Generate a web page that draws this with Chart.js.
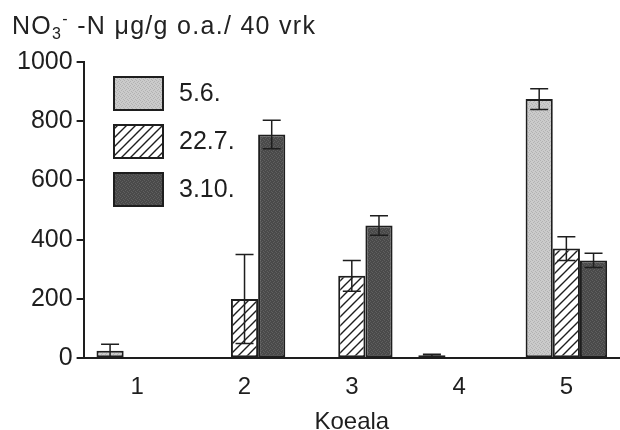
<!DOCTYPE html>
<html>
<head>
<meta charset="utf-8">
<script src="https://cdn.jsdelivr.net/npm/chart.js@4.4.1/dist/chart.umd.min.js"></script>
<style>
  html, body { margin: 0; padding: 0; background: #fff; }
  #wrap { position: relative; width: 620px; height: 430px; overflow: hidden; }
  #title {
    position: absolute; left: 12px; top: 10px;
    font: 25px "Liberation Sans", Arial, sans-serif; color: #222;
    white-space: nowrap; line-height: 30px; letter-spacing: 1.3px;
  }
  #title sub, #title sup { font-size: 16px; line-height: 0; }
  #title sub { vertical-align: -5px; }
  #title sup { vertical-align: 10px; }
</style>
</head>
<body>
<div id="wrap">
  <canvas id="chart" width="620" height="430"></canvas>
  <div id="title">NO<sub>3</sub><sup>-</sup> -N μg/g o.a./ 40 vrk</div>
</div>
<script>
// ---- Data ----
const categories = ['1', '2', '3', '4', '5'];
const seriesLabels = ['5.6.', '22.7.', '3.10.'];
const june5 = [25, 2, 0, 10, 875];
const june5Err = [22, 0, 0, 3, 35];
const july22 = [0, 200, 278, 2, 370];
const july22Err = [0, 150, 52, 0, 40];
const oct3 = [0, 755, 448, 0, 330];
const oct3Err = [0, 48, 33, 0, 24];
const yTicks = [0, 200, 400, 600, 800, 1000];

(function() {
  'use strict';

  const FONT = '"Liberation Sans", Arial, sans-serif';
  const INK = '#1e1e1e';

  // ---- Fill textures ----
  function stipple(base, dot) {
    const c = document.createElement('canvas');
    c.width = 4; c.height = 4;
    const g = c.getContext('2d');
    g.fillStyle = base;
    g.fillRect(0, 0, 4, 4);
    g.fillStyle = dot;
    [[0, 0], [2, 1], [1, 2], [3, 3]].forEach(p => g.fillRect(p[0], p[1], 1, 1));
    return g.createPattern(c, 'repeat');
  }

  function hatch() {
    const s = 9;
    const c = document.createElement('canvas');
    c.width = s; c.height = s;
    const g = c.getContext('2d');
    g.fillStyle = '#fff';
    g.fillRect(0, 0, s, s);
    g.strokeStyle = INK;
    g.lineWidth = 1.4;
    g.beginPath();
    g.moveTo(-1, s + 1); g.lineTo(s + 1, -1);
    g.moveTo(-1, 1); g.lineTo(1, -1);
    g.moveTo(s - 1, s + 1); g.lineTo(s + 1, s - 1);
    g.stroke();
    return g.createPattern(c, 'repeat');
  }

  const fills = [stipple('#cbcbcb', '#b2b2b2'), hatch(), stipple('#4a4a4a', '#5f5f5f')];
  const errs = [june5Err, july22Err, oct3Err];

  // ---- Error bars ----
  const errorBars = {
    id: 'errorBars',
    afterDatasetsDraw(chart) {
      const ctx = chart.ctx;
      const y = chart.scales.y;
      ctx.save();
      ctx.strokeStyle = INK;
      ctx.lineWidth = 1.5;
      chart.data.datasets.forEach((ds, i) => {
        chart.getDatasetMeta(i).data.forEach((bar, j) => {
          const e = errs[i][j];
          if (!e) return;
          const v = ds.data[j];
          const top = y.getPixelForValue(v + e);
          const bot = y.getPixelForValue(Math.max(0, v - e));
          const hw = 9;
          ctx.beginPath();
          ctx.moveTo(bar.x, top); ctx.lineTo(bar.x, bot);
          ctx.moveTo(bar.x - hw, top); ctx.lineTo(bar.x + hw, top);
          ctx.moveTo(bar.x - hw, bot); ctx.lineTo(bar.x + hw, bot);
          ctx.stroke();
        });
      });
      ctx.restore();
    }
  };

  // ---- Legend inside the plot ----
  const boxLegend = {
    id: 'boxLegend',
    afterDraw(chart) {
      const ctx = chart.ctx;
      ctx.save();
      ctx.font = '25px ' + FONT;
      ctx.textBaseline = 'middle';
      seriesLabels.forEach((label, i) => {
        const x = 114, yTop = 77 + i * 48, w = 49, h = 33;
        ctx.fillStyle = fills[i];
        ctx.fillRect(x, yTop, w, h);
        ctx.strokeStyle = INK;
        ctx.lineWidth = 2;
        ctx.strokeRect(x, yTop, w, h);
        ctx.fillStyle = INK;
        ctx.fillText(label, 179, yTop + h / 2 + 1);
      });
      ctx.restore();
    }
  };

  // ---- Chart ----
  function initChart() {
    const values = [june5, july22, oct3];
    new Chart(document.getElementById('chart'), {
      type: 'bar',
      data: {
        labels: categories,
        datasets: values.map((d, i) => ({
          label: seriesLabels[i],
          data: d,
          backgroundColor: fills[i],
          borderColor: INK,
          borderWidth: 2,
          borderSkipped: false,
          barPercentage: 1,
          categoryPercentage: 0.76
        }))
      },
      options: {
        responsive: false,
        animation: false,
        layout: { padding: { top: 62, right: 0, left: 13, bottom: 0 } },
        plugins: { legend: { display: false }, tooltip: { enabled: false } },
        scales: {
          x: {
            grid: { display: false, drawTicks: false },
            border: { display: true, color: INK, width: 2 },
            ticks: { color: INK, font: { family: FONT, size: 24 }, padding: 15 },
            title: { display: true, text: 'Koeala', color: INK, font: { family: FONT, size: 24, lineHeight: 1 }, padding: { top: -7, bottom: -4 } }
          },
          y: {
            min: 0, max: 1000,
            afterBuildTicks(scale) { scale.ticks = yTicks.map(v => ({ value: v })); },
            grid: { drawOnChartArea: false, drawTicks: true, tickLength: 7, color: INK, lineWidth: 2 },
            border: { display: true, color: INK, width: 2 },
            ticks: { color: INK, font: { family: FONT, size: 25 }, padding: 4, callback: v => String(v) }
          }
        }
      },
      plugins: [errorBars, boxLegend]
    });
  }

  initChart();
})();
</script>
</body>
</html>
